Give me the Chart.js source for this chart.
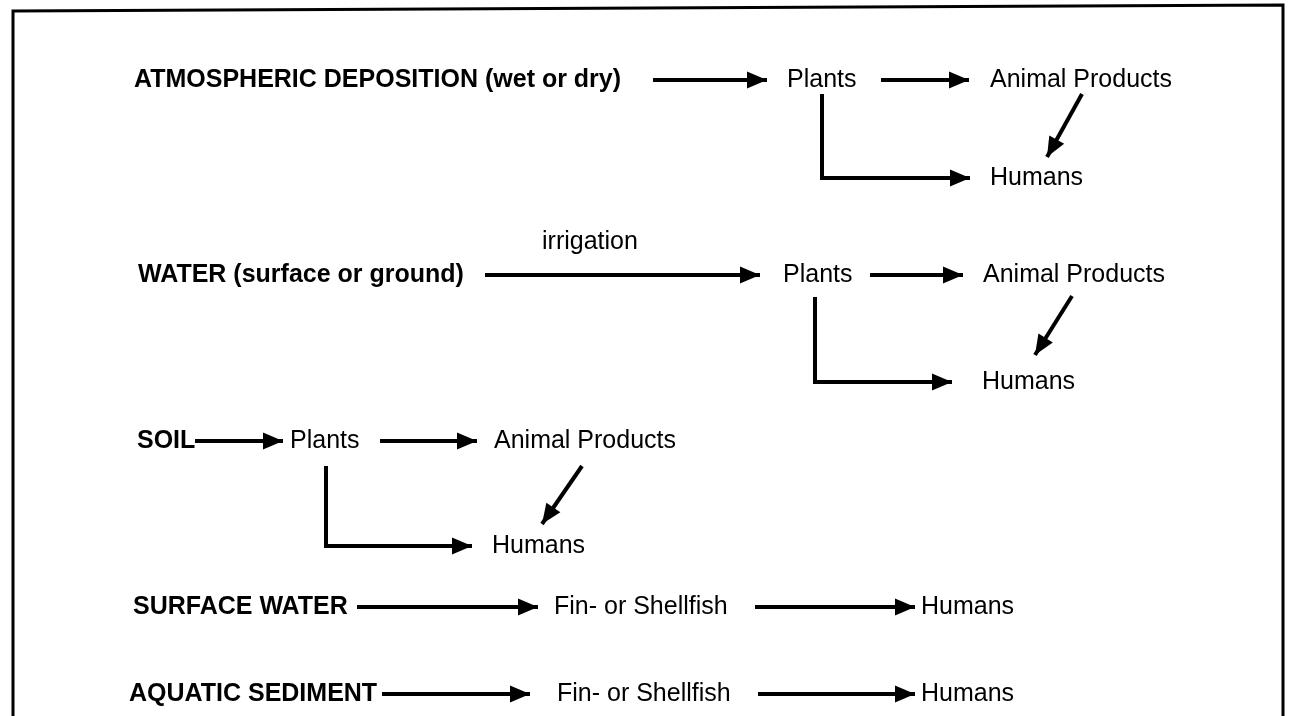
<!DOCTYPE html>
<html>
<head>
<meta charset="utf-8">
<script src="https://cdn.jsdelivr.net/npm/chart.js@4"></script>
<style>
  html, body { margin: 0; padding: 0; background: #fff; }
  #wrap { width: 1289px; height: 716px; }
</style>
</head>
<body>
<div id="wrap"><canvas id="flow"></canvas></div>
<script>
// node labels of the pathway diagram (diagram units, y grows downward)
const nodeLabels = [
  'ATMOSPHERIC DEPOSITION (wet or dry)', 'Plants', 'Animal Products', 'Humans',
  'irrigation', 'WATER (surface or ground)', 'Plants', 'Animal Products', 'Humans',
  'SOIL', 'Plants', 'Animal Products', 'Humans',
  'SURFACE WATER', 'Fin- or Shellfish', 'Humans',
  'AQUATIC SEDIMENT', 'Fin- or Shellfish', 'Humans',
];
const nodeX = [
  134, 787, 990, 990,
  542, 138, 783, 983, 982,
  137, 290, 494, 492,
  133, 554, 921,
  129, 557, 921,
];
const nodeY = [
  80, 80, 80, 178,
  242, 275, 275, 275, 382,
  441, 441, 441, 546,
  607, 607, 607,
  694, 694, 694,
];
const nodeBold = [
  true, false, false, false,
  false, true, false, false, false,
  true, false, false, false,
  true, false, false,
  true, false, false,
];

// connectors: each is a path of [x, y] points, arrowhead at the last point
const links = [
  [[653, 80], [767, 80]],
  [[881, 80], [969, 80]],
  [[1082, 94], [1047, 157]],
  [[822, 94], [822, 178], [970, 178]],

  [[485, 275], [760, 275]],
  [[870, 275], [963, 275]],
  [[1072, 296], [1035, 355]],
  [[815, 297], [815, 382], [952, 382]],

  [[195, 441], [283, 441]],
  [[380, 441], [477, 441]],
  [[582, 466], [542, 524]],
  [[326, 466], [326, 546], [472, 546]],

  [[357, 607], [538, 607]],
  [[755, 607], [915, 607]],

  [[382, 694], [530, 694]],
  [[758, 694], [915, 694]],
];

// frame around the figure (open at the bottom)
const frame = [[13, 716], [13, 11], [1283, 5], [1283, 716]];

const toPoints = (path) => path.map(([x, y]) => ({ x, y }));

const datasets = links.map((path) => ({
  data: toPoints(path),
  showLine: true,
  borderColor: '#000',
  borderWidth: 4,
  pointRadius: 0,
  tension: 0,
  arrow: true,
}));

datasets.push({
  data: toPoints(frame),
  showLine: true,
  borderColor: '#000',
  borderWidth: 3,
  pointRadius: 0,
  tension: 0,
  arrow: false,
});

// arrowheads at the end of each connector
const arrowPlugin = {
  id: 'arrows',
  afterDatasetsDraw(chart) {
    const { ctx, scales } = chart;
    ctx.save();
    ctx.fillStyle = '#000';
    chart.data.datasets.forEach((ds) => {
      if (!ds.arrow) return;
      const n = ds.data.length;
      const a = ds.data[n - 2];
      const b = ds.data[n - 1];
      const x1 = scales.x.getPixelForValue(a.x);
      const y1 = scales.y.getPixelForValue(a.y);
      const x2 = scales.x.getPixelForValue(b.x);
      const y2 = scales.y.getPixelForValue(b.y);
      const ang = Math.atan2(y2 - y1, x2 - x1);
      const len = 20;
      const half = 8.5;
      ctx.beginPath();
      ctx.moveTo(x2, y2);
      ctx.lineTo(
        x2 - len * Math.cos(ang) + half * Math.sin(ang),
        y2 - len * Math.sin(ang) - half * Math.cos(ang)
      );
      ctx.lineTo(
        x2 - len * Math.cos(ang) - half * Math.sin(ang),
        y2 - len * Math.sin(ang) + half * Math.cos(ang)
      );
      ctx.closePath();
      ctx.fill();
    });
    ctx.restore();
  },
};

// node text
const labelPlugin = {
  id: 'nodeLabels',
  afterDatasetsDraw(chart) {
    const { ctx, scales } = chart;
    ctx.save();
    ctx.fillStyle = '#000';
    ctx.textAlign = 'left';
    ctx.textBaseline = 'middle';
    nodeLabels.forEach((text, i) => {
      ctx.font = (nodeBold[i] ? 'bold ' : '') + '25px "Liberation Sans", Arial, sans-serif';
      ctx.fillText(text, scales.x.getPixelForValue(nodeX[i]), scales.y.getPixelForValue(nodeY[i]));
    });
    ctx.restore();
  },
};

new Chart(document.getElementById('flow'), {
  type: 'scatter',
  data: { datasets },
  options: {
    responsive: true,
    maintainAspectRatio: false,
    animation: false,
    layout: { padding: 0 },
    plugins: {
      legend: { display: false },
      tooltip: { enabled: false },
    },
    scales: {
      x: { type: 'linear', min: 0, max: 1289, display: false },
      y: { type: 'linear', min: 0, max: 716, reverse: true, display: false },
    },
  },
  plugins: [arrowPlugin, labelPlugin],
});
</script>
</body>
</html>
